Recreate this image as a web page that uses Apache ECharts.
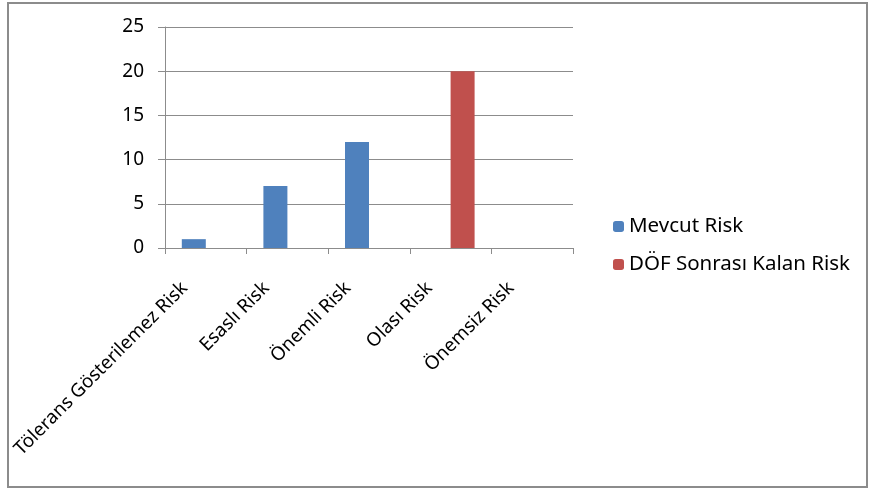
<!DOCTYPE html>
<html>
<head>
	<meta charset="UTF-8">
	<title>Risk Grafiği</title>
	<script src="https://cdn.jsdelivr.net/npm/echarts@6/dist/echarts.min.js"></script>
	<style>
		html, body { margin: 0; padding: 0; background: #fff; }
		#main { width: 872px; height: 492px; }
	</style>
</head>
<body>
	<div id="main"></div>
	<script type="text/javascript">
		// veriler
		var categories = ['Tölerans Gösterilemez Risk', 'Esaslı Risk', 'Önemli Risk', 'Olası Risk', 'Önemsiz Risk'];
		var mevcutRisk = [1, 7, 12, 0, 0];
		var dofSonrasi = [0, 0, 0, 20, 0];
		var yTicks = [0, 25, 5];

		var font = 'Noto Sans';
		var chart = echarts.init(document.getElementById('main'));
		var option = {
			animation: false,
			backgroundColor: '#fff',
			textStyle: { fontFamily: font },
			graphic: [
				{
					type: 'rect',
					shape: { x: 8, y: 3, width: 859, height: 484 },
					style: { fill: 'none', stroke: '#8c8c8c', lineWidth: 2 },
					silent: true
				}
			],
			legend: {
				orient: 'vertical',
				left: 608,
				top: 211,
				itemWidth: 11,
				itemHeight: 11,
				itemGap: 17,
				textStyle: { fontFamily: font, fontSize: 20.5, color: '#000' },
				data: ['Mevcut Risk', 'DÖF Sonrası Kalan Risk']
			},
			grid: {
				left: 165,
				right: 299,
				top: 27,
				bottom: 244
			},
			xAxis: {
				type: 'category',
				data: categories,
				axisLine: { lineStyle: { color: '#8c8c8c' } },
				axisTick: { show: true, length: 6, lineStyle: { color: '#8c8c8c' } },
				axisLabel: {
					rotate: 45,
					margin: 16,
					padding: [0, 30, 0, 0],
					interval: 0,
					fontFamily: font,
					fontSize: 18.8,
					color: '#000'
				}
			},
			yAxis: {
				type: 'value',
				min: yTicks[0],
				max: yTicks[1],
				interval: yTicks[2],
				axisLine: { show: true, lineStyle: { color: '#8c8c8c' } },
				axisTick: { show: true, length: 7, lineStyle: { color: '#8c8c8c' } },
				splitLine: { lineStyle: { color: '#8c8c8c' } },
				axisLabel: { margin: 21, fontFamily: font, fontSize: 19, color: '#000' }
			},
			series: [
				{
					name: 'Mevcut Risk',
					type: 'bar',
					data: mevcutRisk,
					barWidth: 24,
					barGap: '0%',
					itemStyle: { color: '#4F81BD' }
				},
				{
					name: 'DÖF Sonrası Kalan Risk',
					type: 'bar',
					data: dofSonrasi,
					barWidth: 24,
					itemStyle: { color: '#C0504D' }
				}
			]
		};
		chart.setOption(option);
	</script>
</body>
</html>
